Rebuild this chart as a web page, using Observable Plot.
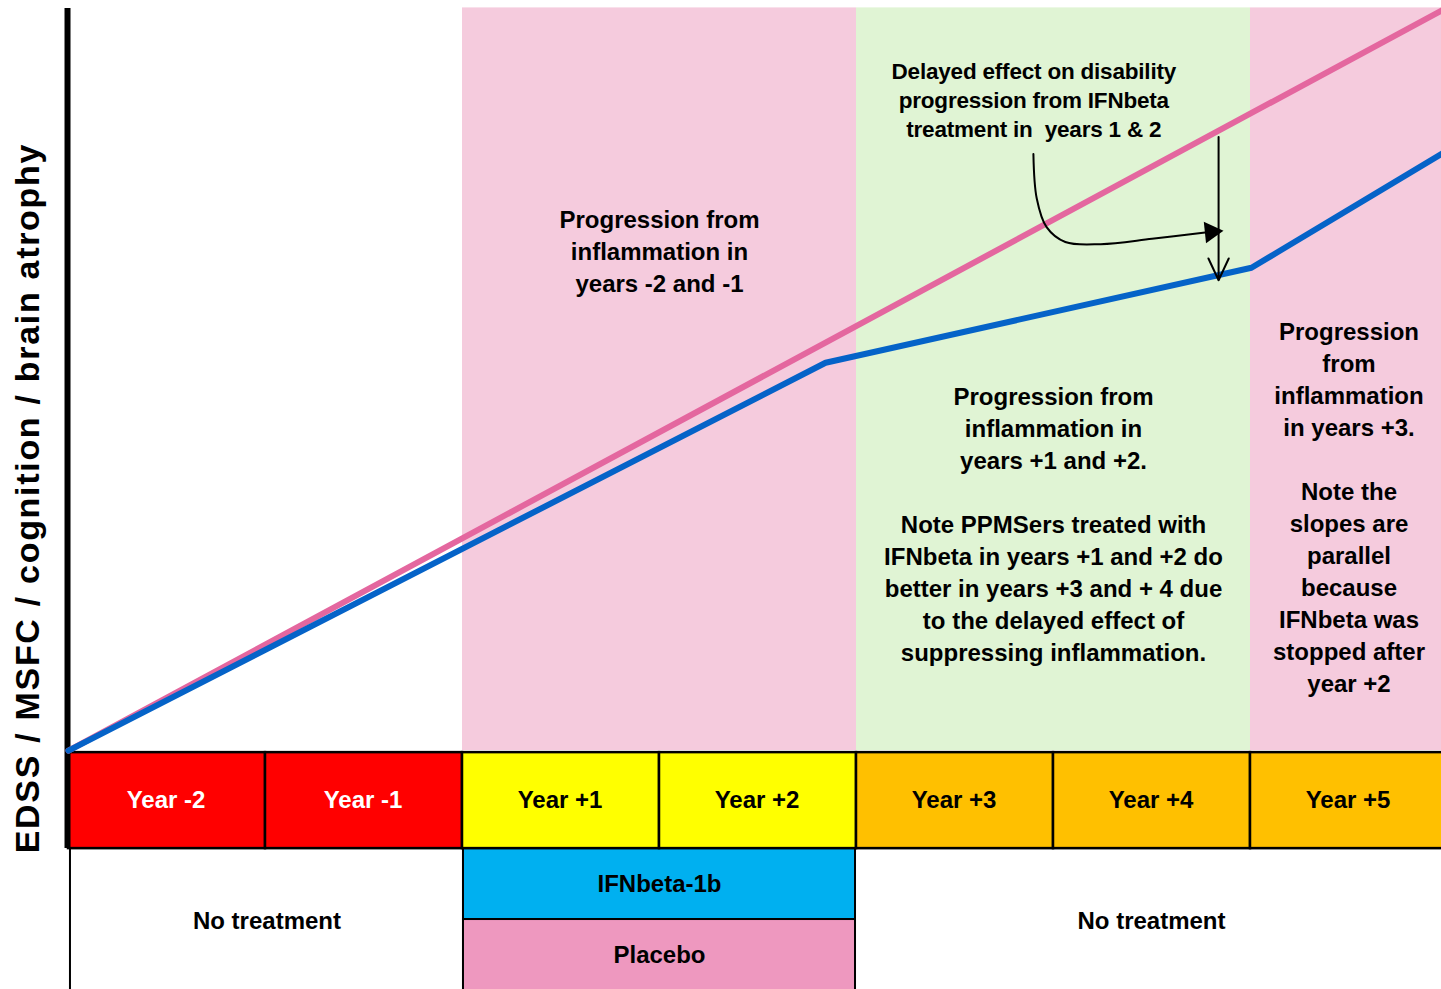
<!DOCTYPE html>
<html><head><meta charset="utf-8">
<script src="https://cdn.jsdelivr.net/npm/d3@7"></script>
<script src="https://cdn.jsdelivr.net/npm/@observablehq/plot@0.6"></script>
<style>body{margin:0;background:#fff;overflow:hidden}</style>
</head><body><div id="chart"></div>
<script>
// ---- data ----
const yearLabels = ["Year -2","Year -1","Year +1","Year +2","Year +3","Year +4","Year +5"];
const yearColors = ["#ff0000","#ff0000","#ffff00","#ffff00","#ffc000","#ffc000","#ffc000"];
const yearTextColors = ["#ffffff","#ffffff","#000000","#000000","#000000","#000000","#000000"];

const phaseStart = [2, 4, 6];
const phaseEnd = [4, 6, 7];
const phaseColors = ["#f5cbdd","#e0f4d4","#f5cbdd"];

const treatLabels = ["No treatment","IFNbeta-1b","Placebo","No treatment"];
const treatStart = [0.01, 2.005, 2.005, 3.995];
const treatEnd = [2.005, 3.995, 3.995, 7.3];
const treatTop = [-0.923, -0.923, -1.591, -0.923];
const treatBottom = [-2.4, -1.591, -2.4, -2.4];
const treatColors = ["#ffffff","#00b0f0","#ee98bf","#ffffff"];
const treatTextY = [-1.61, -1.262, -1.93, -1.61];

// progression lines (year index, progression units)
const placeboX = [0, 7];
const placeboY = [0, 7];
const ifnX = [0, 3.843, 6.005, 7];
const ifnY = [0, 3.653, 4.548, 5.653];

// annotation texts
const notes = [
  "Progression from\ninflammation in\nyears -2 and -1",
  "Progression from\ninflammation in\nyears +1 and +2.\n\nNote PPMSers treated with\nIFNbeta in years +1 and +2 do\nbetter in years +3 and + 4 due\nto the delayed effect of\nsuppressing inflammation.",
  "Progression\nfrom\ninflammation\nin years +3.\n\nNote the\nslopes are\nparallel\nbecause\nIFNbeta was\nstopped after\nyear +2"
];
const noteX = [3.0, 5.0, 6.5];
const noteY = [4.718, 2.147, 2.307];

const delayNote = "Delayed effect on disability\nprogression from IFNbeta\ntreatment in  years 1 & 2";
const delayX = 4.9, delayY = 6.14;

// curved arrow path
const curveX = [4.898, 4.915, 4.965, 5.06, 5.24, 5.5, 5.77];
const curveY = [5.62, 5.2, 4.93, 4.79, 4.77, 4.82, 4.88];
const curveHeadX = [5.80], curveHeadY = [4.885];
// vertical arrow
const vArrowX = 5.838, vArrowY1 = 5.78, vArrowY2 = 4.43;

const yTitle = "EDSS / MSFC / cognition / brain atrophy";

// ---- build ----
const idx = d3.range(yearLabels.length);
const font = "'Liberation Sans', Arial, sans-serif";

const chart = Plot.plot({
  width: 1441, height: 989,
  marginTop: 0, marginRight: 0, marginBottom: 0, marginLeft: 0,
  x: {domain: [0, 7], range: [68, 1447], axis: null},
  y: {domain: [-2.25, 6.98], range: [989, 9], axis: null},
  style: {fontFamily: font, background: "#ffffff", overflow: "hidden"},
  marks: [
    // phase backgrounds
    Plot.rect(d3.range(3), {x1: i => phaseStart[i], x2: i => phaseEnd[i], y1: 0, y2: 6.995, fill: i => phaseColors[i]}),
    // treatment boxes
    Plot.rect(d3.range(4), {x1: i => treatStart[i], x2: i => treatEnd[i], y1: i => treatTop[i], y2: i => treatBottom[i],
      fill: i => treatColors[i], stroke: "#000", strokeWidth: 2}),
    Plot.text(d3.range(4), {x: i => (treatStart[i] + Math.min(treatEnd[i], 7)) / 2, y: i => treatTextY[i],
      text: i => treatLabels[i], fontSize: 24, fontWeight: "bold", fill: "#000"}),
    // year boxes
    Plot.rect(idx, {x1: i => i, x2: i => i + 1, y1: -0.923, y2: -0.019, fill: i => yearColors[i], stroke: "#000", strokeWidth: 2.5}),
    Plot.text(idx, {x: i => i + 0.495, y: -0.471, text: i => yearLabels[i], fill: i => yearTextColors[i],
      fontSize: 24, fontWeight: "bold"}),
    // y axis line
    Plot.ruleX([-0.005], {y1: -0.923, y2: 6.99, stroke: "#000", strokeWidth: 6}),
    // progression lines
    Plot.line(placeboX.map((x, i) => ({x, y: placeboY[i]})), {x: "x", y: "y", stroke: "#e4679f", strokeWidth: 6}),
    Plot.line(ifnX.map((x, i) => ({x, y: ifnY[i]})), {x: "x", y: "y", stroke: "#0563c8", strokeWidth: 6}),
    // notes
    Plot.text(d3.range(3), {x: i => noteX[i], y: i => noteY[i], text: i => notes[i], fontSize: 24, fontWeight: "bold",
      lineHeight: 1.333, fill: "#000"}),
    Plot.text([delayNote], {x: delayX, y: delayY, text: d => d, fontSize: 22.5, fontWeight: "bold", lineHeight: 1.3,
      fill: "#000"}),
    // curved arrow
    Plot.line(curveX.map((x, i) => ({x, y: curveY[i]})), {x: "x", y: "y", curve: "catmull-rom", stroke: "#000", strokeWidth: 2}),
    Plot.dot(curveHeadX.map((x, i) => ({x, y: curveHeadY[i]})), {x: "x", y: "y", symbol: "triangle", r: 8, rotate: 84, fill: "#000", stroke: "none"}),
    // vertical arrow
    Plot.arrow([0], {x1: vArrowX, x2: vArrowX, y1: vArrowY1, y2: vArrowY2, stroke: "#000", strokeWidth: 2, headLength: 18, headAngle: 50}),
    // y title
    Plot.text([yTitle], {x: -0.205, y: 2.378, text: d => d, rotate: -90, fontSize: 34, fontWeight: "bold", fill: "#000"})
  ]
});
d3.select(chart).selectAll("text").each(function() {
  const t = this.textContent;
  if (t === yTitle) this.setAttribute("letter-spacing", "1.7px");
  if (t.startsWith("Delayed") || t.startsWith("progression from IFN") || t.startsWith("treatment in")) this.setAttribute("letter-spacing", "-0.2px");
});
d3.select(chart).selectAll("tspan").each(function() {
  const t = this.textContent;
  if (t.startsWith("Delayed") || t.startsWith("progression from IFN") || t.startsWith("treatment in")) this.setAttribute("letter-spacing", "-0.2px");
});
document.getElementById("chart").appendChild(chart);
</script>
</body></html>
